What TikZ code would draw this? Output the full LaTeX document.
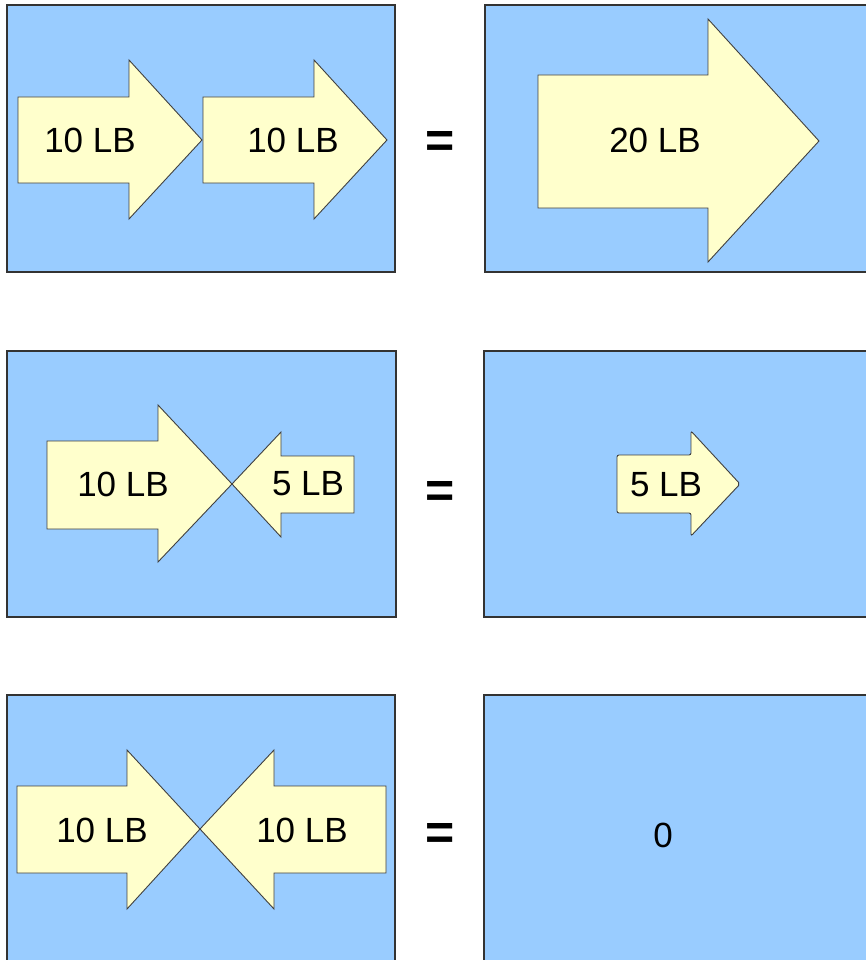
\documentclass[tikz,border=0pt]{standalone}
\usepackage{fontspec}
\setmainfont{Liberation Sans}
\definecolor{panelblue}{HTML}{99CCFF}
\definecolor{forceyellow}{HTML}{FFFFCC}

\tikzstyle{panel}=[draw=black!80,line width=1.5pt,fill=panelblue]
\tikzstyle{force}=[draw=black!75,line width=0.9pt,fill=forceyellow]
\tikzstyle{lbl}=[font=\fontsize{35}{38}\selectfont,inner sep=0pt]
\tikzstyle{equals}=[font=\fontsize{50}{54}\selectfont\bfseries,inner sep=0pt]

\begin{document}
\begin{tikzpicture}[x=1pt,y=-1pt]

   \useasboundingbox (0,0) rectangle (865,960);

   % top row
   \draw[panel] (7,5) rectangle (395,272);
   \draw[panel] (485,5) rectangle (875,272);

   \draw[force] (18,97) -- (129,97) -- (129,60) -- (202,140) -- (129,219)
-- (129,183) -- (18,183) -- cycle;
   \draw[force] (203,97) -- (314,97) -- (314,60) -- (387,140) -- (314,219)
-- (314,183) -- (203,183) -- cycle;
   \draw[force] (538,75) -- (708,75) -- (708,19) -- (819,141) -- (708,262)
-- (708,208) -- (538,208) -- cycle;

   \node[lbl] (top1) at (90,140) {10 LB};
   \node[lbl] (top2) at (293,140) {10 LB};
   \node[equals] (eq1) at (440,144) {=};
   \node[lbl] (topsum) at (655,140) {20 LB};

   % middle row
   \draw[panel] (7,351) rectangle (396,617);
   \draw[panel] (484,351) rectangle (875,617);

   \draw[force] (47,441) -- (158,441) -- (158,405) -- (232,484) -- (158,562)
-- (158,529) -- (47,529) -- cycle;
   \draw[force] (232,484) -- (281,432) -- (281,456) -- (354,456) -- (354,513)
-- (281,513) -- (281,537) -- cycle;
   \draw[force,rounded corners=2pt] (617,455) -- (691,455) -- (691,431)
-- (740,484) -- (691,536) -- (691,513) -- (617,513) -- cycle;

   \node[lbl] (mid1) at (123,484) {10 LB};
   \node[lbl] (mid2) at (308,484) {5 LB};
   \node[equals] (eq2) at (440,494) {=};
   \node[lbl] (midsum) at (666,485) {5 LB};

   % bottom row
   \draw[panel] (7,695) rectangle (395,975);
   \draw[panel] (484,695) rectangle (875,975);

   \draw[force] (17,786) -- (127,786) -- (127,750) -- (200,829) -- (127,909)
-- (127,873) -- (17,873) -- cycle;
   \draw[force] (200,829) -- (274,750) -- (274,786) -- (386,786) -- (386,873)
-- (274,873) -- (274,909) -- cycle;

   \node[lbl] (bot1) at (102,830) {10 LB};
   \node[lbl] (bot2) at (302,830) {10 LB};
   \node[equals] (eq3) at (440,836) {=};
   \node[lbl] (botsum) at (663,835) {0};

\end{tikzpicture}
\end{document}
